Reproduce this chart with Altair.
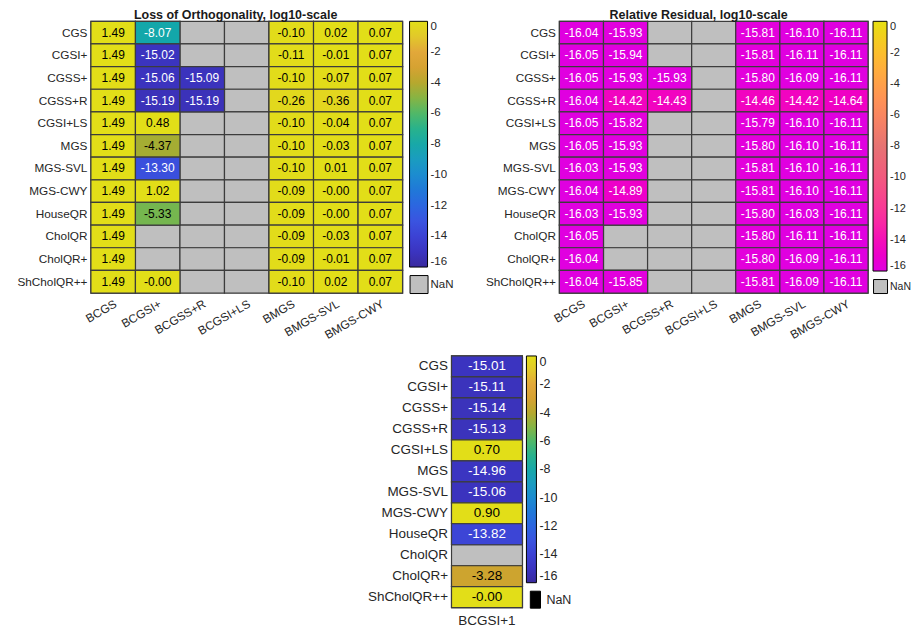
import altair as alt
import pandas as pd

FONT = "Liberation Sans"
TXT = "#262626"
GRID = "#3c3c3c"

rows = ["CGS", "CGSI+", "CGSS+", "CGSS+R", "CGSI+LS", "MGS", "MGS-SVL",
        "MGS-CWY", "HouseQR", "CholQR", "CholQR+", "ShCholQR++"]
cols = ["BCGS", "BCGSI+", "BCGSS+R", "BCGSI+LS", "BMGS", "BMGS-SVL", "BMGS-CWY"]
N = None

# Loss of orthogonality, log10 (one list per column, rows in order above)
loo_bcgs = [1.49, 1.49, 1.49, 1.49, 1.49, 1.49, 1.49, 1.49, 1.49, 1.49, 1.49, 1.49]
loo_bcgsi = [-8.07, -15.02, -15.06, -15.19, 0.48, -4.37, -13.30, 1.02, -5.33, N, N, -0.001]
loo_bcgssr = [N, N, -15.09, -15.19, N, N, N, N, N, N, N, N]
loo_bcgsils = [N, N, N, N, N, N, N, N, N, N, N, N]
loo_bmgs = [-0.10, -0.11, -0.10, -0.26, -0.10, -0.10, -0.10, -0.09, -0.09, -0.09, -0.09, -0.10]
loo_bmgssvl = [0.02, -0.01, -0.07, -0.36, -0.04, -0.03, 0.01, -0.001, -0.001, -0.03, -0.01, 0.02]
loo_bmgscwy = [0.07, 0.07, 0.07, 0.07, 0.07, 0.07, 0.07, 0.07, 0.07, 0.07, 0.07, 0.07]

# Relative residual, log10
res_bcgs = [-16.04, -16.05, -16.05, -16.04, -16.05, -16.05, -16.03, -16.04, -16.03, -16.05, -16.04, -16.04]
res_bcgsi = [-15.93, -15.94, -15.93, -14.42, -15.82, -15.93, -15.93, -14.89, -15.93, N, N, -15.85]
res_bcgssr = [N, N, -15.93, -14.43, N, N, N, N, N, N, N, N]
res_bcgsils = [N, N, N, N, N, N, N, N, N, N, N, N]
res_bmgs = [-15.81, -15.81, -15.80, -14.46, -15.79, -15.80, -15.81, -15.81, -15.80, -15.80, -15.80, -15.81]
res_bmgssvl = [-16.10, -16.11, -16.09, -14.42, -16.10, -16.10, -16.10, -16.10, -16.03, -16.11, -16.09, -16.09]
res_bmgscwy = [-16.11, -16.11, -16.11, -14.64, -16.11, -16.11, -16.11, -16.11, -16.11, -16.11, -16.11, -16.11]

# BCGSI+1 loss of orthogonality, log10
one_cols = ["BCGSI+1"]
one_vals = [-15.01, -15.11, -15.14, -15.13, 0.70, -14.96, -15.06, 0.90, -13.82, N, -3.28, -0.001]

cbar_ticks = [0, -2, -4, -6, -8, -10, -12, -14, -16]

parula_dom = [-16, -15, -14, -13, -12, -11, -10, -9, -8, -7, -6, -5, -4, -3, -2, -1, 0]
parula_rng = ["#3a2a9e", "#3b34c0", "#3c42d4", "#3a54e0", "#2c66e0", "#2078d8", "#1c8cd0",
              "#1a9cc0", "#18a8a8", "#28b28c", "#50b868", "#86b444", "#b6a82e", "#d6a232",
              "#e2a83a", "#e2c82a", "#e2de18"]
spring_dom = [-16, -8, 0]
spring_rng = ["#e000e0", "#e67373", "#e6e010"]


def long_df(col_lists, col_names):
    recs = []
    for c, vals in zip(col_names, col_lists):
        for r, v in zip(rows, vals):
            recs.append({"row": r, "col": c, "v": v,
                         "lab": "" if v is None else f"{v:.2f}"})
    return pd.DataFrame(recs)


def panel(df, col_names, w, h, dom, rng, white_test, nan_fill, axis_fs, cell_fs,
          x_angle, grad_x, grad_len, grad_thick, nan_h, nan_shape, nan_size,
          cbar_fs, nan_fs, title=None, ylab_expr=None):
    xax = dict(title=None, ticks=False, domain=False, labelFontSize=axis_fs,
               labelColor=TXT, labelFont=FONT, labelPadding=5)
    if x_angle:
        xax.update(labelAngle=x_angle, labelAlign="right", labelBaseline="top")
    else:
        xax.update(labelAngle=0, labelPadding=6)
    yax = dict(title=None, ticks=False, domain=False, labelFontSize=axis_fs,
               labelColor=TXT, labelFont=FONT, labelPadding=4)
    if ylab_expr:
        yax["labelExpr"] = ylab_expr
    base = alt.Chart(df).encode(
        x=alt.X("col:N", sort=col_names, axis=alt.Axis(**xax)),
        y=alt.Y("row:N", sort=rows, axis=alt.Axis(**yax)),
    )
    nan_legend = base.transform_calculate(nan="'NaN'").mark_rect().encode(
        fill=alt.Fill("nan:N", scale=alt.Scale(domain=["NaN"], range=[nan_fill]),
                      legend=alt.Legend(orient="none", legendX=grad_x, legendY=h - nan_h,
                                        title=None, symbolType=nan_shape,
                                        symbolSize=nan_size, symbolStrokeColor="black",
                                        symbolStrokeWidth=1, labelFontSize=nan_fs,
                                        labelColor=TXT, labelFont=FONT, labelOffset=2,
                                        padding=0))
    )
    gray = base.mark_rect(fill="#bfbfbf", stroke=GRID, strokeWidth=1.2)
    colored = base.transform_filter("isValid(datum.v)").mark_rect(
        stroke=GRID, strokeWidth=1.2).encode(
        color=alt.Color("v:Q", scale=alt.Scale(domain=dom, range=rng, clamp=True),
                        legend=alt.Legend(orient="none", legendX=grad_x, legendY=0,
                                          direction="vertical", gradientLength=grad_len,
                                          gradientThickness=grad_thick, values=cbar_ticks,
                                          title=None, labelFontSize=cbar_fs,
                                          labelColor=TXT, labelFont=FONT, labelOffset=3,
                                          gradientStrokeColor="black",
                                          gradientStrokeWidth=1,
                                          labelExpr="'' + datum.value",
                                          labelBaseline="middle", padding=0))
    )
    text = base.transform_filter("isValid(datum.v)").mark_text(
        fontSize=cell_fs, font=FONT).encode(
        text="lab:N",
        color=alt.condition(white_test, alt.value("white"), alt.value("black")),
    )
    ch = alt.layer(nan_legend, gray, colored, text).properties(width=w, height=h)
    if title:
        ch = ch.properties(title=alt.Title(title, frame="bounds", anchor="middle",
                                           fontSize=12.5, fontWeight="bold", font=FONT,
                                           color="#1a1a1a", offset=-1))
    return ch.resolve_scale(color="independent", fill="independent")


sq = "M-1,-1L1,-1L1,1L-1,1Z"
tall = "M-0.6,-1L0.6,-1L0.6,1L-0.6,1Z"
trail = "datum.value == 'ShCholQR++' ? 'ShCholQR++\u00a0\u00a0' : datum.value"

TOP_H = 272
left = panel(long_df([loo_bcgs, loo_bcgsi, loo_bcgssr, loo_bcgsils, loo_bmgs,
                      loo_bmgssvl, loo_bmgscwy], cols),
             cols, 312, TOP_H, parula_dom, parula_rng, "datum.v < -6", "#bfbfbf",
             11.8, 12, 330, 319, TOP_H - 26, 18, 18, sq, 324, 11.5, 11.5,
             title="Loss of Orthogonality, log10-scale", ylab_expr=trail)
right = panel(long_df([res_bcgs, res_bcgsi, res_bcgssr, res_bcgsils, res_bmgs,
                       res_bmgssvl, res_bmgscwy], cols),
              cols, 309, TOP_H, spring_dom, spring_rng, "true", "#bfbfbf",
              11.8, 12, 330, 314, TOP_H - 22, 14, 14, sq, 196, 11, 10.5,
              title="Relative Residual, log10-scale")
bottom = panel(long_df([one_vals], one_cols), one_cols, 71, 252, parula_dom, parula_rng,
               "datum.v < -6", "#000000", 13.5, 13.5, 0, 75, 227, 10, 17, tall, 289,
               12.5, 12.5)

spacer = alt.Chart(pd.DataFrame({"a": [0]})).mark_point(opacity=0).encode(
    x=alt.value(0), y=alt.value(0)).properties(
    width=276, height=1,
    view=alt.ViewBackground(stroke="transparent", strokeWidth=0, strokeOpacity=0,
                            fill="transparent"))

top_row = alt.hconcat(left, right, spacing=29).resolve_scale(color="independent",
                                                              fill="independent")
bot_row = alt.hconcat(spacer, bottom, spacing=0).resolve_scale(color="independent",
                                                                fill="independent")
chart = alt.vconcat(top_row, bot_row, spacing=11).resolve_scale(
    color="independent", fill="independent").properties(
    padding={"left": 8, "top": 0, "right": 0, "bottom": 0}
).configure_view(strokeWidth=0, stroke="transparent").configure(font=FONT)

chart.save("out.html", embed_options={"renderer": "svg", "actions": False})
